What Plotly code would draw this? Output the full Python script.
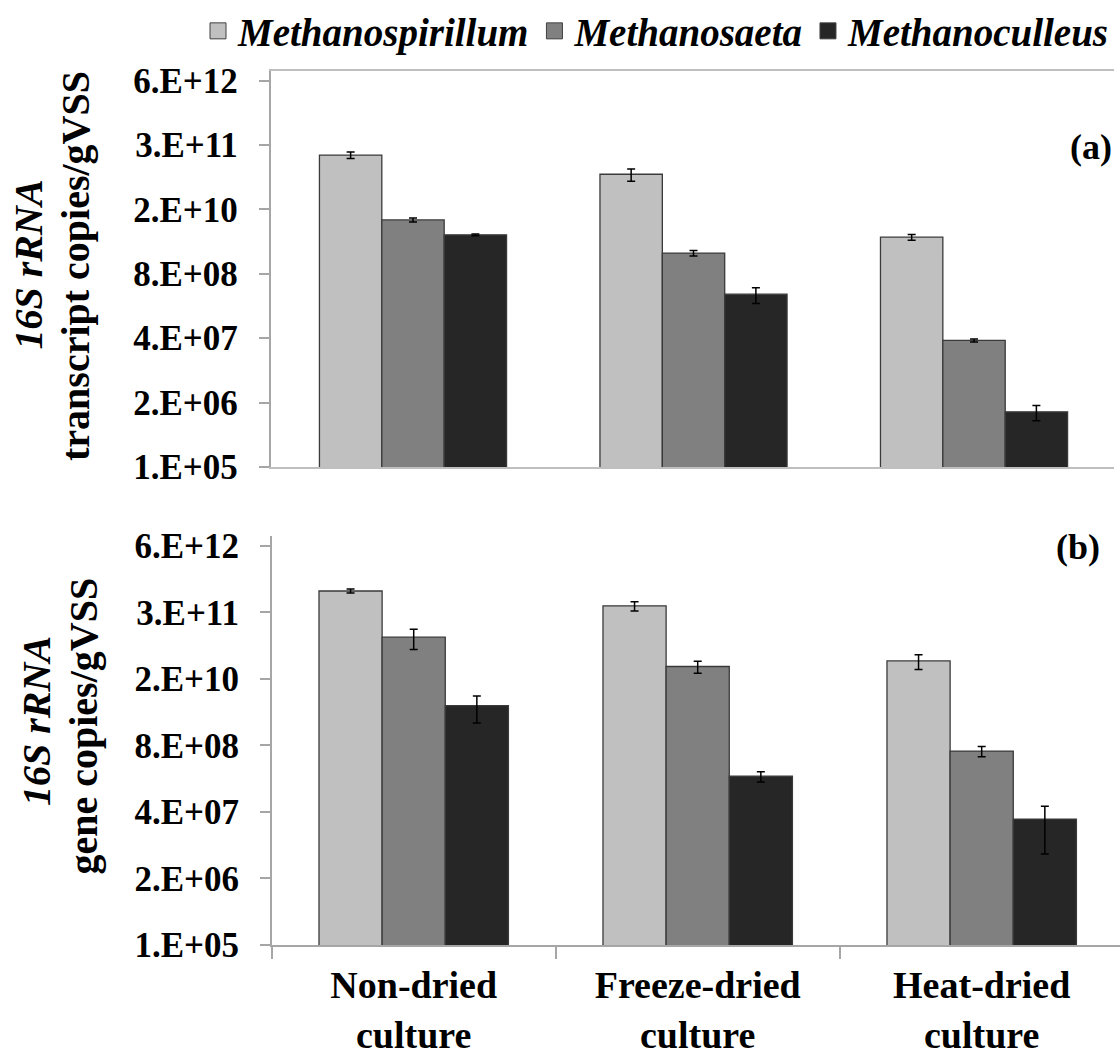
import plotly.graph_objects as go

# ---------------- data ----------------
categories = ["Non-dried<br>culture", "Freeze-dried<br>culture", "Heat-dried<br>culture"]
series = ["Methanospirillum", "Methanosaeta", "Methanoculleus"]
colors = ["#C0C0C0", "#808080", "#262626"]

# panel (a): 16S rRNA transcript copies/gVSS
a_spirillum = [2.0e11, 8.2e10, 4.4e9]
a_saeta = [9.8e9, 2.1e9, 3.6e7]
a_culleus = [4.9e9, 3.1e8, 1.3e6]
a_spirillum_err = [3.0e10, 2.3e10, 6.0e8]
a_saeta_err = [9.0e8, 2.7e8, 2.5e6]
a_culleus_err = [2.0e8, 1.1e8, 4.4e5]

# panel (b): 16S rRNA gene copies/gVSS
b_spirillum = [8.4e11, 4.3e11, 3.6e10]
b_saeta = [1.05e11, 2.8e10, 6.2e8]
b_culleus = [4.8e9, 2.0e8, 2.9e7]
b_spirillum_err = [7.5e10, 9.0e10, 1.15e10]
b_saeta_err = [4.5e10, 7.3e9, 1.4e8]
b_culleus_err = [2.6e9, 4.5e7, 2.3e7]

tick_vals = [1e5, 2e6, 4e7, 8e8, 1.6e10, 3.2e11, 6.4e12]
tick_text = ["1.E+05", "2.E+06", "4.E+07", "8.E+08", "2.E+10", "3.E+11", "6.E+12"]

W, H = 1120, 1057
FONT = "Liberation Serif, Times New Roman, serif"


def px(x):
    return x / W


def py(y):
    return 1 - y / H


fig = go.Figure()

panel_a = [(a_spirillum, a_spirillum_err), (a_saeta, a_saeta_err), (a_culleus, a_culleus_err)]
panel_b = [(b_spirillum, b_spirillum_err), (b_saeta, b_saeta_err), (b_culleus, b_culleus_err)]

for (vals, errs), name, col in zip(panel_a, series, colors):
    fig.add_trace(go.Bar(
        x=categories, y=vals, name=name, showlegend=False,
        marker=dict(color=col, line=dict(color="#3A3A3A", width=1.3)),
        error_y=dict(type="data", array=errs, color="black", thickness=1.5, width=4),
        xaxis="x", yaxis="y",
    ))

for (vals, errs), name, col in zip(panel_b, series, colors):
    fig.add_trace(go.Bar(
        x=categories, y=vals, name=name, showlegend=False,
        marker=dict(color=col, line=dict(color="#3A3A3A", width=1.3)),
        error_y=dict(type="data", array=errs, color="black", thickness=1.5, width=4),
        xaxis="x2", yaxis="y2",
    ))

# legend entries
for name, col in zip(series, colors):
    fig.add_trace(go.Scatter(
        x=[None], y=[None], mode="markers", name=name,
        marker=dict(symbol="square", size=16, color=col, line=dict(color="#404040", width=1)),
        xaxis="x", yaxis="y",
    ))

yaxis_common = dict(
    type="log", range=[5, 13], tickmode="array", tickvals=tick_vals, ticktext=tick_text,
    ticks="outside", ticklen=10, tickwidth=1.5, tickcolor="#A6A6A6",
    showline=True, linecolor="#A6A6A6", linewidth=1.5, showgrid=False, zeroline=False,
    tickfont=dict(family=FONT, size=35, color="black", weight="bold"),
    ticklabelstandoff=14, automargin=False,
)

fig.update_layout(
    width=W, height=H,
    margin=dict(l=0, r=0, t=0, b=0, autoexpand=False),
    paper_bgcolor="white", plot_bgcolor="white",
    barmode="group", bargap=0.333, bargroupgap=0,
    font=dict(family=FONT, color="black"),
    xaxis=dict(
        domain=[px(270.5), px(1114)], range=[-0.508, 2.499], type="category",
        categoryorder="array", categoryarray=categories,
        showticklabels=False, ticks="", showline=True, mirror=True,
        linecolor="#BFBFBF", linewidth=1.5, showgrid=False, zeroline=False, automargin=False,
        anchor="y",
    ),
    yaxis=dict(domain=[py(467), py(71)], anchor="x", **yaxis_common),
    xaxis2=dict(
        domain=[px(271.7), 1.0], range=[-0.5, 2.487], type="category",
        categoryorder="array", categoryarray=categories,
        ticks="outside", tickson="boundaries", ticklen=12, tickwidth=1.5, tickcolor="#A6A6A6",
        showline=True, linecolor="#A6A6A6", linewidth=1.5, showgrid=False, zeroline=False,
        tickfont=dict(family=FONT, size=38, color="black", weight="bold"),
        ticklabelstandoff=6, automargin=False, anchor="y2",
    ),
    yaxis2=dict(domain=[py(945), py(536)], anchor="x2", **yaxis_common),
    legend=dict(
        orientation="h", x=px(198), xanchor="left", y=py(31), yanchor="middle",
        font=dict(family=FONT, size=39, color="black", weight="bold", style="italic"),
        bgcolor="rgba(0,0,0,0)", borderwidth=0, tracegroupgap=0,
    ),
)

title_font = dict(family=FONT, size=40, color="black", weight="bold")
annos = [
    dict(text="<i>16S rRNA</i>", x=px(28), y=py(264.5)),
    dict(text="transcript copies/gVSS", x=px(76), y=py(266)),
    dict(text="<i>16S rRNA</i>", x=px(36), y=py(721)),
    dict(text="gene copies/gVSS", x=px(83), y=py(726.5)),
]
for a in annos:
    fig.add_annotation(xref="paper", yref="paper", showarrow=False, textangle=-90,
                       xanchor="center", yanchor="middle", font=title_font, **a)

panel_font = dict(family=FONT, size=36, color="black", weight="bold")
fig.add_annotation(text="(a)", xref="paper", yref="paper", x=px(1091), y=py(147),
                   showarrow=False, xanchor="center", yanchor="middle", font=panel_font)
fig.add_annotation(text="(b)", xref="paper", yref="paper", x=px(1078), y=py(547),
                   showarrow=False, xanchor="center", yanchor="middle", font=panel_font)

fig.write_html(
    "out.html",
    config={"displayModeBar": False},
    post_script="document.body.style.margin='0';document.body.style.overflow='hidden';",
)
